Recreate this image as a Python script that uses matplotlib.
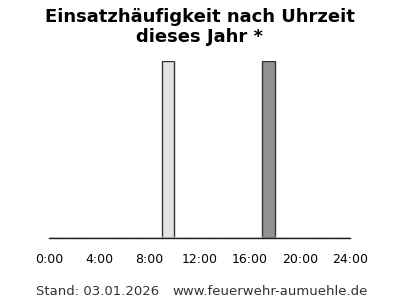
import matplotlib
matplotlib.use("Agg")
import matplotlib.pyplot as plt

# Einsätze pro Stunde (0..23)
stunden = list(range(24))
anzahl = [0] * 24
anzahl[9] = 1
anzahl[17] = 1
farben = ["#e2e2e2"] * 24
farben[17] = "#929292"

tick_pos = [0, 4, 8, 12, 16, 20, 24]
tick_labels = ["0:00", "4:00", "8:00", "12:00", "16:00", "20:00", "24:00"]

fig = plt.figure(figsize=(4, 3), dpi=100)
ax = fig.add_axes([0.1225, 0.207, 0.7525, 0.59])

ax.bar(stunden, anzahl, width=1.0, align="edge", color=farben,
       edgecolor="#333333", linewidth=1.0)

ax.set_xlim(0, 24)
ax.set_ylim(0, 1)
ax.set_xticks(tick_pos)
ax.set_xticklabels(tick_labels, fontsize=9)
ax.set_xticks(range(25), minor=True)
ax.tick_params(axis="x", which="major", length=0, pad=11)
ax.tick_params(axis="x", which="minor", length=3, direction="inout",
               color="#dddddd", width=0.5)
ax.set_yticks([])
for s in ["top", "left", "right"]:
    ax.spines[s].set_visible(False)
ax.spines["bottom"].set_color("#222222")
ax.spines["bottom"].set_linewidth(1.0)

fig.text(0.5, 0.91, "Einsatzhäufigkeit nach Uhrzeit\ndieses Jahr *",
         ha="center", va="center", fontsize=13, fontweight="bold",
         linespacing=1.15)
fig.text(0.09, 0.018, "Stand: 03.01.2026", fontsize=9.5, color="#333333")
fig.text(0.43, 0.018, "www.feuerwehr-aumuehle.de", fontsize=9.5, color="#333333")

fig.savefig("out.png", dpi=100)
